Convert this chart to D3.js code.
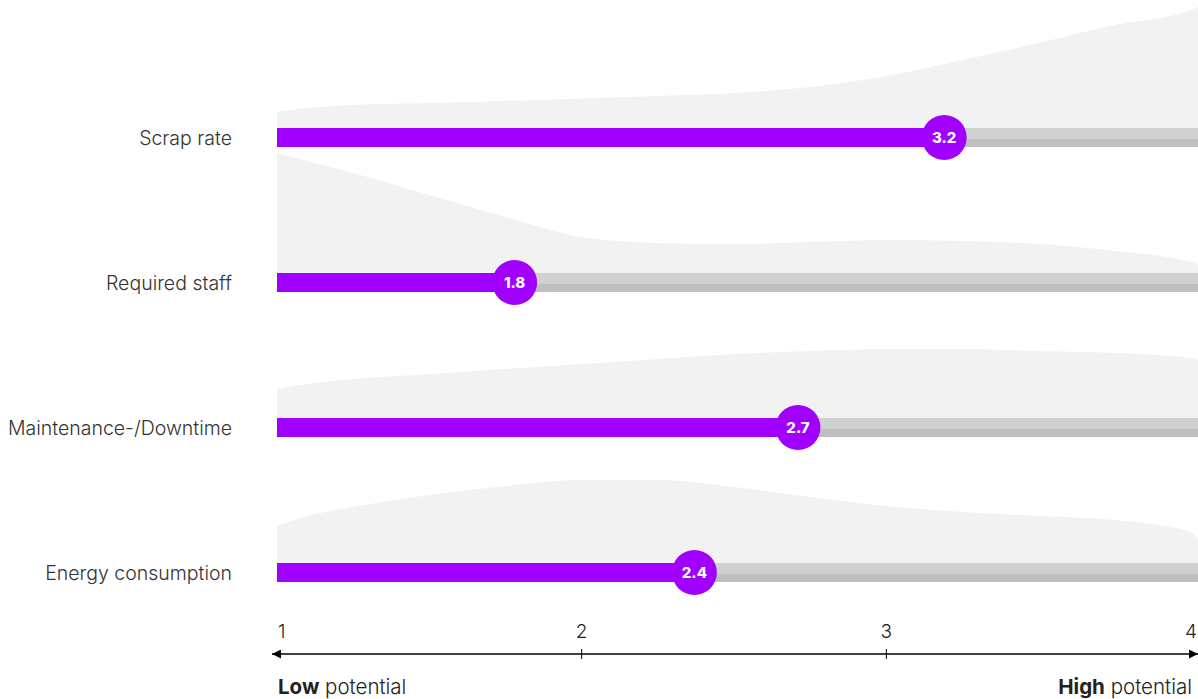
<!DOCTYPE html>
<html>
<head>
<meta charset="utf-8">
<script src="https://cdn.jsdelivr.net/npm/d3@7"></script>
<style>
  html, body { margin: 0; padding: 0; background: #fff; }
  svg { display: block; }
  text { font-family: Inter, Roboto, "Noto Sans", sans-serif; }
</style>
</head>
<body>
<svg id="chart" width="1198" height="699"></svg>
<script>
// ---- data ----
const categories = ["Scrap rate", "Required staff", "Maintenance-/Downtime", "Energy consumption"];
const values = [3.19, 1.78, 2.71, 2.37];
const valueLabels = ["3.2", "1.8", "2.7", "2.4"];
const densityX = [1, 1.1, 1.25, 1.5, 1.75, 2, 2.25, 2.5, 2.75, 3, 3.25, 3.5, 3.75, 4, 4.023];
const densityScrap       = [16, 20, 23, 25, 27, 29.5, 32, 35, 41, 52, 68, 85, 103, 118, 121];
const densityStaff       = [120, 112, 100, 78, 56, 36, 30, 29, 31, 33, 32, 29, 22, 11, 8];
const densityMaintenance = [29, 34, 39, 44, 49, 54, 59, 64, 67, 69, 69, 67, 65, 60, 58];
const densityEnergy      = [37, 47, 56, 68, 77, 83, 83, 76, 66, 57, 51, 47, 43, 31, 24];
const densities = [densityScrap, densityStaff, densityMaintenance, densityEnergy];
const axisTicks = [1, 2, 3, 4];
const axisLabelLow = ["Low", " potential"];
const axisLabelHigh = ["High", " potential"];

// ---- layout ----
const W = 1198, H = 699;
const svg = d3.select("#chart");
const x = d3.scaleLinear().domain([1, 4]).range([277, 1191]);
const y = d3.scalePoint().domain(categories).range([137.5, 572.5]);
const dens = d3.scaleLinear().domain([0, 120]).range([0, 120]);
const barH = 19;
const right = W;
const PURPLE = "#a100ff";

const rows = categories.map((c, i) => ({ c, v: values[i], lab: valueLabels[i], d: densities[i] }));

// density shapes
const area = d3.area()
  .x(p => Math.min(x(p[0]), right))
  .y0(0)
  .y1(p => -dens(p[1]))
  .curve(d3.curveMonotoneX);

const g = svg.append("g");
rows.forEach(r => {
  const top = y(r.c) - barH / 2;
  const pts = densityX.map((dx, k) => [dx, r.d[k]]);
  g.append("path")
    .attr("transform", `translate(0,${top})`)
    .attr("d", area(pts))
    .attr("fill", "#f2f2f2");
});

// tracks, bars, markers, labels
rows.forEach(r => {
  const top = y(r.c) - barH / 2;
  g.append("rect").attr("x", x(1)).attr("y", top).attr("width", right - x(1)).attr("height", 11).attr("fill", "#d0d0d0");
  g.append("rect").attr("x", x(1)).attr("y", top + 11).attr("width", right - x(1)).attr("height", barH - 11).attr("fill", "#bfbfbf");
  g.append("rect").attr("x", x(1)).attr("y", top).attr("width", x(r.v) - x(1)).attr("height", barH).attr("fill", PURPLE);
  g.append("circle").attr("cx", x(r.v)).attr("cy", y(r.c)).attr("r", 22.5).attr("fill", PURPLE);
  g.append("text").attr("x", x(r.v)).attr("y", y(r.c) + 5.5)
    .attr("text-anchor", "middle").attr("fill", "#fff")
    .attr("font-size", 15).attr("font-weight", 800).text(r.lab);
  g.append("text").attr("x", 232).attr("y", y(r.c) + 7)
    .attr("text-anchor", "end").attr("fill", "#333")
    .attr("font-size", 19.5).attr("font-weight", 300).text(r.c);
});

// axis
const axisY = 654;
const defs = svg.append("defs");
defs.append("marker").attr("id", "arrowR").attr("viewBox", "0 0 10 10").attr("refX", 10).attr("refY", 5)
  .attr("markerWidth", 9).attr("markerHeight", 9).attr("markerUnits", "userSpaceOnUse").attr("orient", "auto")
  .append("path").attr("d", "M0,0 L10,5 L0,10 Z").attr("fill", "#000");
defs.append("marker").attr("id", "arrowL").attr("viewBox", "0 0 10 10").attr("refX", 0).attr("refY", 5)
  .attr("markerWidth", 9).attr("markerHeight", 9).attr("markerUnits", "userSpaceOnUse").attr("orient", "auto")
  .append("path").attr("d", "M10,0 L0,5 L10,10 Z").attr("fill", "#000");

svg.append("line").attr("x1", 272).attr("x2", right).attr("y1", axisY).attr("y2", axisY)
  .attr("stroke", "#000").attr("stroke-width", 1.5)
  .attr("marker-start", "url(#arrowL)").attr("marker-end", "url(#arrowR)");

axisTicks.forEach((t, i) => {
  if (i > 0 && i < axisTicks.length - 1) {
    svg.append("line").attr("x1", x(t)).attr("x2", x(t)).attr("y1", axisY - 5).attr("y2", axisY + 5)
      .attr("stroke", "#000").attr("stroke-width", 1);
  }
  svg.append("text")
    .attr("x", i === 0 ? 278 : x(t))
    .attr("y", 638)
    .attr("text-anchor", i === 0 ? "start" : "middle")
    .attr("fill", "#222").attr("font-size", 19).attr("font-weight", 300).text(t);
});

const low = svg.append("text").attr("x", 278).attr("y", 694).attr("font-size", 20.5).attr("fill", "#222");
low.append("tspan").attr("font-weight", 700).text(axisLabelLow[0]);
low.append("tspan").attr("font-weight", 300).text(axisLabelLow[1]);
const high = svg.append("text").attr("x", 1192).attr("y", 694).attr("font-size", 20.5).attr("fill", "#222").attr("text-anchor", "end");
high.append("tspan").attr("font-weight", 700).text(axisLabelHigh[0]);
high.append("tspan").attr("font-weight", 300).text(axisLabelHigh[1]);
</script>
</body>
</html>
